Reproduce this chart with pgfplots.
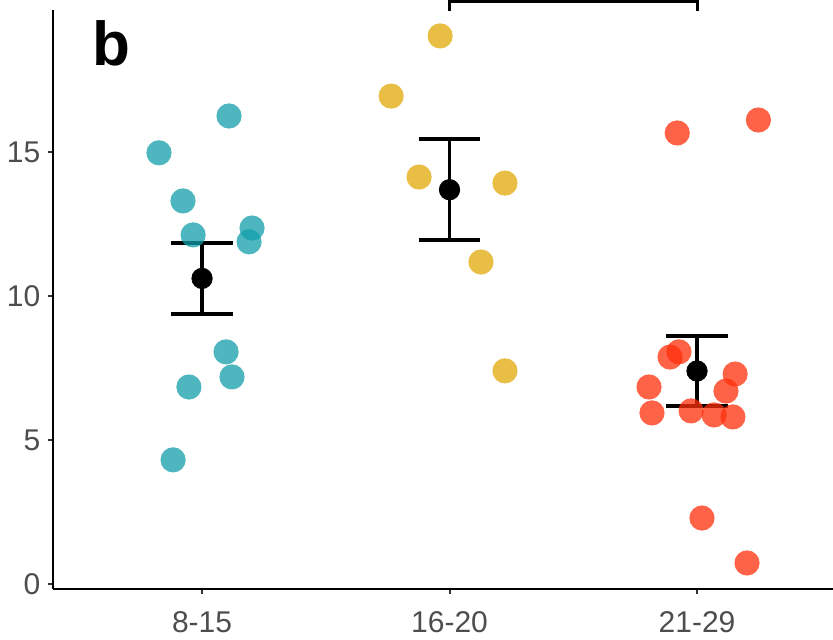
\documentclass[border=0pt]{standalone}
\usepackage{fontspec}
\setmainfont{Liberation Sans}
\usepackage{pgfplots}
\pgfplotsset{compat=1.18}
\definecolor{cteal}{RGB}{17,158,170}
\definecolor{cgold}{RGB}{226,168,7}
\definecolor{cred}{RGB}{255,47,10}
\definecolor{gtext}{HTML}{4D4D4D}
\definecolor{gtick}{HTML}{333333}
\begin{document}
\begin{tikzpicture}
\useasboundingbox (0pt,0pt) rectangle (416.5pt,320pt);
\begin{axis}[
  at={(26.65pt,25.5pt)}, anchor=south west,
  width=389.85pt, height=289.5pt, scale only axis,
  xmin=0.399, xmax=3.5495, ymin=-0.174, ymax=19.93,
  axis x line*=bottom, axis y line*=left,
  axis line style={black, line width=1pt, -},
  xtick={1,2,3}, xticklabels={8-15,16-20,21-29},
  ytick={0,5,10,15},
  tick align=outside, major tick length=2.5pt,
  tick style={color=gtick, line width=1pt},
  tick label style={font=\fontsize{15}{17}\selectfont, text=gtext},
  xticklabel style={yshift=-5pt},
  yticklabel style={xshift=-0.5pt},
  /pgf/number format/assume math mode=true,
  clip=false,
]
% group 1: 8-15
\addplot[only marks, mark=*, color=cteal, mark size=6.3pt,
  mark options={draw opacity=0, fill=cteal, fill opacity=0.75}]
  coordinates {
  (0.826,14.97) (1.109,16.25) (0.923,13.30) (0.964,12.12) (1.202,12.36)
  (1.190,11.88) (1.097,8.06) (1.121,7.19) (0.947,6.84) (0.883,4.31)
  };
% group 2: 16-20
\addplot[only marks, mark=*, color=cgold, mark size=6.3pt,
  mark options={draw opacity=0, fill=cgold, fill opacity=0.75}]
  coordinates {
  (1.962,19.03) (1.764,16.94) (1.877,14.13) (2.224,13.92) (2.127,11.18) (2.224,7.40)
  };
% group 3: 21-29
\addplot[only marks, mark=*, color=cred, mark size=6.3pt,
  mark options={draw opacity=0, fill=cred, fill opacity=0.75}]
  coordinates {
  (2.920,15.66) (3.248,16.11) (2.891,7.88) (2.927,8.06) (2.806,6.84)
  (3.154,7.29) (3.117,6.70) (2.818,5.94) (2.976,6.01) (3.069,5.87)
  (3.145,5.80) (3.020,2.29) (3.202,0.73)
  };
% error bars (mean +- se)
\addplot[black, line width=1.8pt, mark=none] coordinates {(1,9.38) (1,11.84)};
\addplot[black, line width=1.8pt, mark=none] coordinates {(0.875,9.38) (1.125,9.38)};
\addplot[black, line width=1.8pt, mark=none] coordinates {(0.875,11.84) (1.125,11.84)};
\addplot[black, line width=1.8pt, mark=none] coordinates {(2,11.94) (2,15.45)};
\addplot[black, line width=1.8pt, mark=none] coordinates {(1.875,11.94) (2.125,11.94)};
\addplot[black, line width=1.8pt, mark=none] coordinates {(1.875,15.45) (2.125,15.45)};
\addplot[black, line width=1.8pt, mark=none] coordinates {(3,6.18) (3,8.61)};
\addplot[black, line width=1.8pt, mark=none] coordinates {(2.875,6.18) (3.125,6.18)};
\addplot[black, line width=1.8pt, mark=none] coordinates {(2.875,8.61) (3.125,8.61)};
% means
\addplot[only marks, mark=*, mark size=5.1pt, black]
  coordinates {(1,10.61) (2,13.69) (3,7.395)};
\draw[line width=1.5pt] (axis cs:2,19.90) -- (axis cs:2,20.23) -- (axis cs:3,20.23) -- (axis cs:3,19.90);
\end{axis}
\node[anchor=base west, inner sep=0pt, font=\fontsize{31}{31}\selectfont\bfseries] at (46pt,287pt) {b};
\end{tikzpicture}
\end{document}
